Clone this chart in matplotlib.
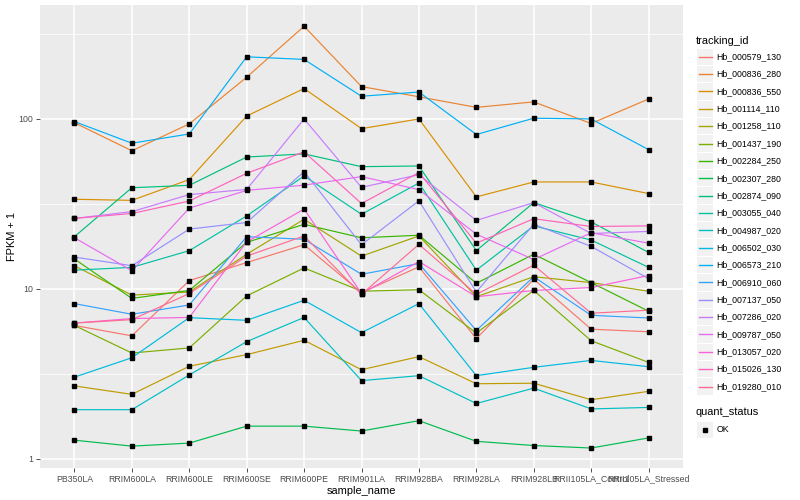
import numpy as np
import matplotlib.pyplot as plt
from matplotlib.patches import Rectangle

plt.rcParams['font.family'] = ['Liberation Sans', 'DejaVu Sans']

samples = ["PB350LA", "RRIM600LA", "RRIM600LE", "RRIM600SE", "RRIM600PE",
           "RRIM901LA", "RRIM928BA", "RRIM928LA", "RRIM928LB",
           "RRII105LA_Control", "RRII105LA_Stressed"]

tracking_ids = ["Hb_000579_130", "Hb_000836_280", "Hb_000836_550", "Hb_001114_110",
                "Hb_001258_110", "Hb_001437_190", "Hb_002284_250", "Hb_002307_280",
                "Hb_002874_090", "Hb_003055_040", "Hb_004987_020", "Hb_006502_030",
                "Hb_006573_210", "Hb_006910_060", "Hb_007137_050", "Hb_007286_020",
                "Hb_009787_050", "Hb_013057_020", "Hb_015026_130", "Hb_019280_010"]

# ggplot hue palette, 20 colours
colors = ["#F8766D", "#EA8331", "#D89000", "#C09B00", "#A3A500", "#7CAE00",
          "#39B600", "#00BB4E", "#00BF7D", "#00C1A3", "#00BFC4", "#00BAE0",
          "#00B0F6", "#35A2FF", "#9590FF", "#C77CFF", "#E76BF3", "#FA62DB",
          "#FF62BC", "#FF6C91"]

# FPKM + 1 per sample
hb_000579_130 = [6.1, 5.3, 11.2, 14.3, 18.2, 9.5, 13.5, 5.1, 11.4, 5.8, 5.6]
hb_000836_280 = [95, 65, 93.5, 176, 351, 155, 135, 117, 126, 94, 131]
hb_000836_550 = [33.7, 33.2, 44, 104, 151, 87.7, 100, 34.8, 42.6, 42.6, 36.4]
hb_001114_110 = [2.69, 2.40, 3.51, 4.11, 4.99, 3.35, 4.0, 2.77, 2.79, 2.23, 2.50]
hb_001258_110 = [13.7, 9.2, 9.6, 16, 25.7, 15.6, 20.5, 9.0, 11.8, 10.9, 9.7]
hb_001437_190 = [6.1, 4.2, 4.5, 9.1, 13.3, 9.7, 9.9, 5.5, 9.8, 4.96, 3.7]
hb_002284_250 = [15, 8.8, 9.8, 18.8, 24, 20, 20.7, 10.8, 16, 10.9, 7.4]
hb_002307_280 = [1.29, 1.19, 1.24, 1.56, 1.56, 1.46, 1.68, 1.27, 1.20, 1.16, 1.33]
hb_002874_090 = [20.3, 39.4, 40.7, 59.7, 62.3, 52.4, 52.9, 16.8, 32.2, 24.8, 16.4]
hb_003055_040 = [12.9, 13.4, 16.8, 26.9, 46.2, 27.5, 42, 12.9, 23.5, 19.4, 13.4]
hb_004987_020 = [1.95, 1.95, 3.12, 4.9, 6.8, 2.89, 3.09, 2.12, 2.61, 1.97, 2.01]
hb_006502_030 = [3.03, 3.94, 6.78, 6.54, 8.58, 5.53, 8.2, 3.09, 3.46, 3.8, 3.49]
hb_006573_210 = [96.5, 72, 81.6, 232, 224, 136, 144, 81, 101, 100, 66]
hb_006910_060 = [8.2, 7.1, 8.05, 20.3, 19.6, 12.2, 14.1, 5.7, 11.8, 7.0, 6.75]
hb_007137_050 = [15.4, 13.7, 22.5, 24.6, 49, 18.2, 33, 9.6, 24, 17.8, 11.5]
hb_007286_020 = [26, 28.5, 35.9, 38.5, 100, 39.6, 47, 25.3, 32.2, 21.2, 21.8]
hb_009787_050 = [20, 12.8, 29.9, 38, 40.8, 45.8, 38.4, 21, 14.9, 21.4, 18.6]
hb_013057_020 = [6.3, 6.7, 6.8, 18.9, 29.5, 9.4, 14.5, 9.0, 9.8, 10.2, 12]
hb_015026_130 = [26, 27.8, 32.9, 47.9, 64, 31.8, 48.4, 18.6, 25.9, 23.3, 23.5]
hb_019280_010 = [6.3, 6.6, 9.4, 15.6, 20.5, 9.3, 18.3, 9.3, 13.8, 7.2, 7.5]

series = [hb_000579_130, hb_000836_280, hb_000836_550, hb_001114_110, hb_001258_110,
          hb_001437_190, hb_002284_250, hb_002307_280, hb_002874_090, hb_003055_040,
          hb_004987_020, hb_006502_030, hb_006573_210, hb_006910_060, hb_007137_050,
          hb_007286_020, hb_009787_050, hb_013057_020, hb_015026_130, hb_019280_010]

fig = plt.figure(figsize=(8, 5), dpi=100)
ax = fig.add_axes([40/800, 32/500, 643/800, 463/500])
ax.set_facecolor("#EBEBEB")
for s in ax.spines.values():
    s.set_visible(False)

x = np.arange(len(samples))
for vals, col in zip(series, colors):
    ax.plot(x, vals, color=col, lw=0.85, zorder=3)
    ax.plot(x, vals, 's', color='black', ms=2.8, zorder=4)

ax.set_yscale('log')
ax.set_ylim(0.885, 468)
ax.set_xlim(-0.6, len(samples) - 0.4)
ax.set_yticks([1, 10, 100])
ax.set_yticklabels(["1", "10", "100"])
ax.set_yticks([10**0.5, 10**1.5, 10**2.5], minor=True)
ax.yaxis.set_minor_formatter(plt.NullFormatter())
ax.set_xticks(x)
ax.set_xticklabels(samples)

ax.grid(True, which='major', color='white', lw=1.1, zorder=0)
ax.grid(True, which='minor', axis='y', color='white', lw=0.55, zorder=0)
ax.set_axisbelow(True)
ax.tick_params(axis='both', which='major', length=2.8, width=0.6, color='#333333',
               labelsize=6.3, labelcolor='#4D4D4D', pad=2)
ax.tick_params(axis='y', which='minor', length=0)

ax.set_xlabel("sample_name", fontsize=7.9, labelpad=2)
ax.set_ylabel("FPKM + 1", fontsize=7.9, labelpad=1)

# legend area in pixel coordinates
lg = fig.add_axes([0, 0, 1, 1], facecolor='none')
lg.set_xlim(0, 800)
lg.set_ylim(500, 0)
lg.axis('off')

lg.text(696, 40.5, "tracking_id", fontsize=7.9, va='center', ha='left')
y0 = 56.7
step = 17.36
for i, (tid, col) in enumerate(zip(tracking_ids, colors)):
    yc = y0 + i * step
    lg.add_patch(Rectangle((697, yc - step/2 + 0.5), 16, step - 1, color='#F2F2F2', lw=0))
    lg.plot([698.5, 711.5], [yc, yc], color=col, lw=1.0)
    lg.text(716.5, yc, tid, fontsize=6.3, va='center', ha='left')

lg.text(696, 412.3, "quant_status", fontsize=7.9, va='center', ha='left')
lg.add_patch(Rectangle((697, 421.5), 16, 16.5, color='#F2F2F2', lw=0))
lg.plot([705], [429.7], 's', color='black', ms=2.8)
lg.text(716.5, 429.7, "OK", fontsize=6.3, va='center', ha='left')

fig.savefig("out.png", dpi=100)
